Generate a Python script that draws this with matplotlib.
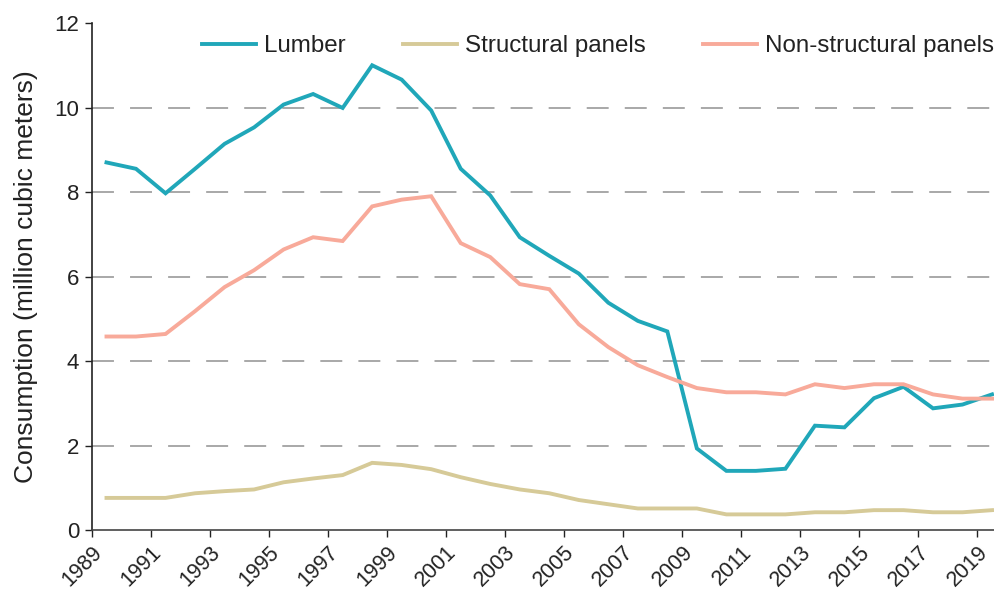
import numpy as np
import matplotlib
matplotlib.use("Agg")
import matplotlib.pyplot as plt

plt.rcParams['font.family'] = ['Liberation Sans', 'DejaVu Sans']
plt.rcParams['lines.scale_dashes'] = False

# data points sit at mid-year
years = np.arange(1989, 2020) + 0.5

lumber = [8.70, 8.55, 7.97, 8.55, 9.14, 9.53, 10.07, 10.32, 9.99, 11.00,
          10.66, 9.93, 8.55, 7.92, 6.93, 6.49, 6.07, 5.38, 4.95, 4.70,
          1.93, 1.40, 1.40, 1.45, 2.47, 2.43, 3.12, 3.39, 2.88, 2.97, 3.21]
structural = [0.76, 0.76, 0.76, 0.87, 0.92, 0.96, 1.13, 1.22, 1.30, 1.59,
              1.54, 1.44, 1.25, 1.09, 0.96, 0.87, 0.71, 0.61, 0.51, 0.51,
              0.51, 0.37, 0.37, 0.37, 0.42, 0.42, 0.47, 0.47, 0.42, 0.42, 0.47]
non_structural = [4.58, 4.58, 4.64, 5.18, 5.75, 6.15, 6.64, 6.93, 6.84, 7.66,
                  7.82, 7.90, 6.79, 6.46, 5.82, 5.70, 4.87, 4.33, 3.90, 3.62,
                  3.36, 3.26, 3.26, 3.21, 3.45, 3.36, 3.45, 3.45, 3.21, 3.11, 3.11]

labels = ['Lumber', 'Structural panels', 'Non-structural panels']
colors = ['#20a7b9', '#d6ca98', '#f8aa9a']
xticks = list(range(1989, 2020, 2))
yticks = [0, 2, 4, 6, 8, 10, 12]

fig = plt.figure(figsize=(9.95, 5.92), dpi=100)
ax = fig.add_axes([0.0922, 0.1047, 0.9078, 0.8564])

for series, lab, col in zip([lumber, structural, non_structural], labels, colors):
    ax.plot(years, series, color=col, lw=2.8, label=lab, solid_joinstyle='miter')

ax.set_xlim(1989, 2019.6)
ax.set_ylim(0, 12)
ax.set_xticks(xticks)
ax.set_xticklabels([str(y) for y in xticks], rotation=45, ha='right', va='top',
                   rotation_mode='anchor')
ax.set_yticks(yticks)

for y in yticks[1:-1]:
    ax.axhline(y, color='#999999', lw=1.2, linestyle=(0, (15.8, 11.6)), zorder=0)

ax.tick_params(axis='both', labelsize=16, colors='#222222', length=5, width=1, pad=4)
ax.tick_params(axis='x', labelsize=15.5, pad=3.5)
for s in ['top', 'right']:
    ax.spines[s].set_visible(False)
ax.spines['left'].set_color('#222222')
ax.spines['bottom'].set_color('#444444')
ax.spines['left'].set_linewidth(1.2)
ax.spines['bottom'].set_linewidth(1.2)

ax.set_ylabel('Consumption (million cubic meters)', fontsize=19, color='#222222', labelpad=12)

fig.legend(loc='center right', bbox_to_anchor=(0.999, 1 - 46 / 592), ncol=3, frameon=False,
           fontsize=17.4, handlelength=2.23, handletextpad=0.33, columnspacing=2.38,
           borderpad=0, borderaxespad=0, labelcolor='#222222')

fig.savefig('out.png', dpi=100)
